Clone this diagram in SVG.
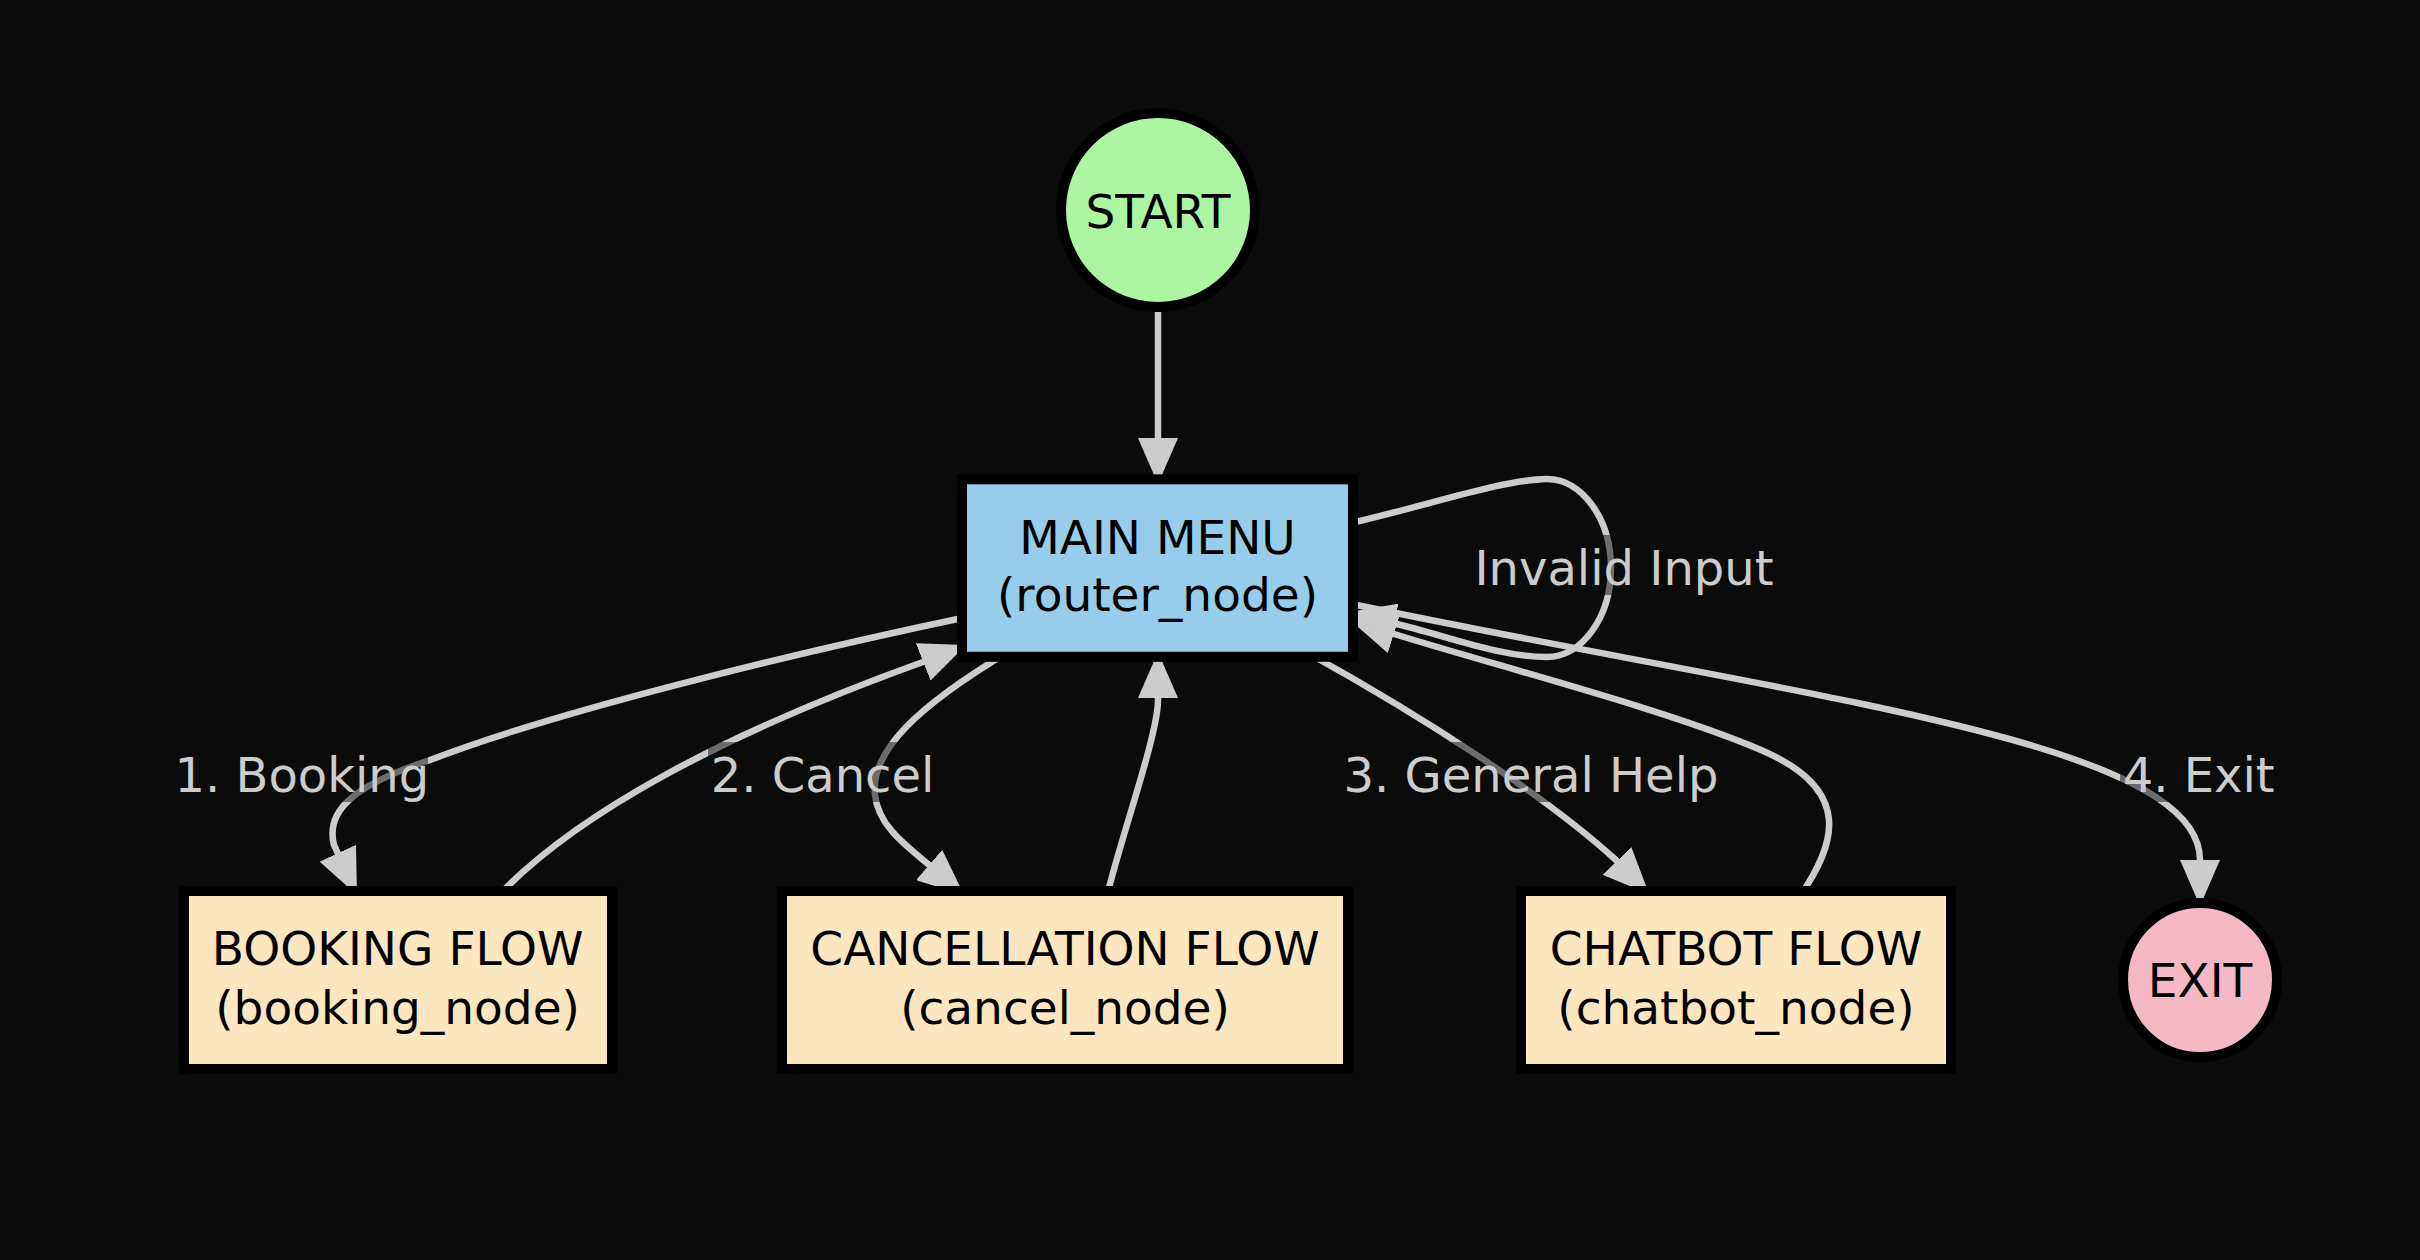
<svg xmlns="http://www.w3.org/2000/svg" width="2420" height="1260" viewBox="0 0 2420 1260">
<style>
.edge{fill:none;stroke:#cccccc;stroke-width:6.5;marker-end:url(#arr)}
.lbl{font-family:"DejaVu Sans",sans-serif;font-size:48px;fill:#cccccc;text-anchor:middle}
.lblbg{fill:#0b0b0b;opacity:0.5}
.node{stroke:#000000;stroke-width:10}
.ntxt{font-family:"DejaVu Sans",sans-serif;font-size:47px;fill:#000000;text-anchor:middle}
</style>
<defs>
<marker id="arr" markerUnits="userSpaceOnUse" markerWidth="46" markerHeight="40" viewBox="0 0 46 40" refX="46" refY="20" orient="auto">
<path d="M0,0 L46,20 L0,40 z" fill="#cccccc"/>
</marker>
</defs>
<rect width="2420" height="1260" fill="#0b0b0b"/>
<g id="connectors">
<path class="edge" d="M1158 312 L1158 484"/>
<path class="edge" d="M967 617 C800 652 560 710 430 760 C355 785 325 810 334 845 L357 895"/>
<path class="edge" d="M498 896 C575 815 720 735 923 662 L966 645"/>
<path class="edge" d="M1008 652 C920 705 870 750 875 795 C878 825 905 845 928 864 L964 895"/>
<path class="edge" d="M1107 896 C1120 840 1158 735 1158 700 L1158 652"/>
<path class="edge" d="M1306 652 C1420 715 1545 795 1617 861 L1649 894"/>
<path class="edge" d="M1800 896 C1835 845 1855 790 1761 750 C1667 710 1508 669 1394 634 L1350 620"/>
<path class="edge" d="M1347 524 C1430 505 1500 480 1547 479 C1582 479 1611 519 1611 568 C1611 617 1582 657 1547 657 C1500 657 1451 637 1393 623 L1349 612"/>
<path class="edge" d="M1347 603 C1800 698 2200 740 2200 860 L2200 906"/>
</g>
<g id="edge-labels">
<g id="label-booking"><rect class="lblbg" x="176" y="742" width="252" height="60"/><text class="lbl" x="301.8" y="791.7">1. Booking</text></g>
<g id="label-cancel"><rect class="lblbg" x="708" y="742" width="229" height="60"/><text class="lbl" x="822.5" y="791.7">2. Cancel</text></g>
<g id="label-help"><rect class="lblbg" x="1339" y="742" width="384" height="60"/><text class="lbl" x="1531" y="791.7">3. General Help</text></g>
<g id="label-exit"><rect class="lblbg" x="2120" y="742" width="158" height="60"/><text class="lbl" x="2198.7" y="791.7">4. Exit</text></g>
<g id="label-invalid"><rect class="lblbg" x="1473" y="535" width="302" height="60"/><text class="lbl" x="1624" y="585">Invalid Input</text></g>
</g>
<g id="node-start">
<circle class="node" cx="1158" cy="210" r="97" fill="#aef5a3"/>
<text class="ntxt" x="1158" y="227.5">START</text>
</g>
<g id="node-main">
<rect class="node" x="962" y="479.3" width="391" height="177.5" fill="#97cdeb"/>
<text class="ntxt" x="1157.5" y="553.5">MAIN MENU</text>
<text class="ntxt" x="1157.5" y="611">(router_node)</text>
</g>
<g id="node-booking">
<rect class="node" x="184" y="891" width="428" height="178" fill="#fce6bf"/>
<text class="ntxt" x="397.6" y="965">BOOKING FLOW</text>
<text class="ntxt" x="397.6" y="1024">(booking_node)</text>
</g>
<g id="node-cancel">
<rect class="node" x="782" y="891" width="566" height="178" fill="#fce6bf"/>
<text class="ntxt" x="1065" y="965">CANCELLATION FLOW</text>
<text class="ntxt" x="1065" y="1024">(cancel_node)</text>
</g>
<g id="node-chatbot">
<rect class="node" x="1521" y="891" width="430" height="178" fill="#fce6bf"/>
<text class="ntxt" x="1736" y="965">CHATBOT FLOW</text>
<text class="ntxt" x="1736" y="1024">(chatbot_node)</text>
</g>
<g id="node-exit">
<circle class="node" cx="2200" cy="980" r="77" fill="#f4b9c4"/>
<text class="ntxt" x="2200" y="996.7">EXIT</text>
</g>
</svg>
